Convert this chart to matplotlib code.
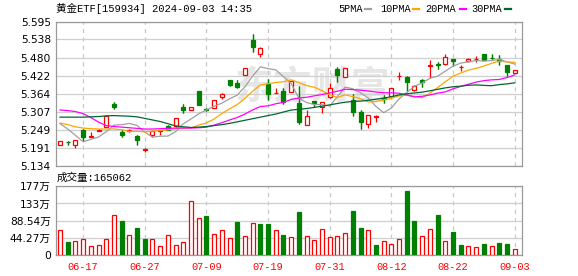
import numpy as np
import pandas as pd
import matplotlib
matplotlib.use('Agg')
import matplotlib.pyplot as plt
from matplotlib.lines import Line2D

plt.rcParams['lines.scale_dashes'] = False

W, H = 578, 276
TITLE = '黄金ETF[159934] 2024-09-03 14:35'
VOL_TITLE = '成交量:165062'
MA_NAMES = ['5PMA', '10PMA', '20PMA', '30PMA']
MA_COLORS = ['#a0a0a0', '#ffa500', '#ff00ff', '#006633']
UP, DOWN = '#ff0000', '#008000'

dates = ['06-12', '06-13', '06-14', '06-17', '06-18', '06-19', '06-20', '06-21',
         '06-24', '06-25', '06-26', '06-27', '06-28', '07-01', '07-02', '07-03',
         '07-04', '07-05', '07-08', '07-09', '07-10', '07-11', '07-12', '07-15',
         '07-16', '07-17', '07-18', '07-19', '07-22', '07-23', '07-24', '07-25',
         '07-26', '07-29', '07-30', '07-31', '08-01', '08-02', '08-05', '08-06',
         '08-07', '08-08', '08-09', '08-12', '08-13', '08-14', '08-15', '08-16',
         '08-19', '08-20', '08-21', '08-22', '08-23', '08-26', '08-27', '08-28',
         '08-29', '08-30', '09-02', '09-03']

opens = [5.200, 5.209, 5.200, 5.2485, 5.2265, 5.2455, 5.257, 5.331, 5.2399, 5.2455,
         5.2294, 5.185, 5.2303, 5.2455, 5.2612, 5.2612, 5.3216, 5.3131, 5.3725, 5.314,
         5.3194, 5.3523, 5.4065, 5.3989, 5.4256, 5.5368, 5.4901, 5.3947, 5.3665, 5.3714,
         5.3703, 5.3334, 5.2633, 5.3407, 5.3205, 5.3523, 5.4434, 5.418, 5.3439, 5.3067,
         5.2664, 5.290, 5.349, 5.3565, 5.4195, 5.418, 5.3755, 5.4075, 5.454, 5.458,
         5.4604, 5.4763, 5.449, 5.4689, 5.475, 5.4901, 5.4795, 5.4763, 5.4551, 5.4318]
highs = [5.2125, 5.212, 5.217, 5.250, 5.2411, 5.2505, 5.295, 5.3385, 5.2485, 5.250,
         5.231, 5.191, 5.2431, 5.247, 5.2625, 5.2875, 5.331, 5.3216, 5.373, 5.318,
         5.3439, 5.367, 5.408, 5.408, 5.4478, 5.5559, 5.5125, 5.4129, 5.3809, 5.381,
         5.4043, 5.3893, 5.312, 5.3407, 5.338, 5.399, 5.4498, 5.4478, 5.3629, 5.312,
         5.2962, 5.296, 5.3597, 5.381, 5.434, 5.4195, 5.3915, 5.4117, 5.471, 5.4657,
         5.4901, 5.4765, 5.455, 5.478, 5.4837, 5.4925, 5.4901, 5.4869, 5.4555, 5.4413]
lows = [5.199, 5.1986, 5.190, 5.2113, 5.226, 5.2445, 5.256, 5.316, 5.2252, 5.240,
        5.2008, 5.178, 5.225, 5.2326, 5.2494, 5.258, 5.3015, 5.3131, 5.327, 5.310,
        5.3194, 5.346, 5.389, 5.381, 5.4256, 5.4974, 5.4816, 5.3439, 5.366, 5.331,
        5.3703, 5.2675, 5.2633, 5.3205, 5.3036, 5.350, 5.402, 5.418, 5.2916, 5.2506,
        5.2537, 5.275, 5.3334, 5.3565, 5.4096, 5.3734, 5.374, 5.3869, 5.416, 5.4445,
        5.4551, 5.452, 5.437, 5.4667, 5.4657, 5.471, 5.477, 5.455, 5.4202, 5.4318]
closes = [5.2125, 5.208, 5.2167, 5.2252, 5.2272, 5.249, 5.294, 5.3216, 5.2326, 5.247,
          5.2167, 5.186, 5.2431, 5.2465, 5.2494, 5.2866, 5.312, 5.3216, 5.328, 5.313,
          5.3439, 5.3629, 5.3916, 5.3869, 5.4478, 5.5134, 5.5113, 5.3629, 5.367, 5.3385,
          5.4043, 5.2749, 5.294, 5.3354, 5.338, 5.381, 5.4256, 5.4478, 5.3067, 5.2749,
          5.2962, 5.2915, 5.3475, 5.381, 5.4205, 5.4011, 5.3893, 5.4011, 5.456, 5.455,
          5.4816, 5.4689, 5.450, 5.4755, 5.4765, 5.4731, 5.4774, 5.470, 5.4339, 5.4413]
# volume in 万
volumes = [63.3, 33.1, 34.9, 40.0, 22.0, 27.0, 40.0, 102.0, 87.4, 50.4,
           69.3, 40.8, 40.0, 22.0, 50.4, 24.5, 32.3, 138.3, 94.4, 100.3,
           53.0, 63.3, 42.6, 84.8, 47.8, 81.4, 79.6, 79.6, 63.3, 51.2,
           45.2, 110.6, 47.8, 37.5, 65.9, 45.2, 47.8, 55.6, 113.2, 69.3,
           63.3, 25.3, 34.9, 27.1, 40.0, 165.0, 87.4, 47.8, 65.9, 102.9,
           34.9, 58.9, 25.3, 22.0, 19.4, 27.9, 22.0, 30.5, 27.9, 16.5]

ma5_head = [5.268, 5.251, 5.231, 5.210]
ma10_head = [5.270, 5.265, 5.258, 5.254, 5.252, 5.251, 5.251, 5.251, 5.249]
ma20_head = [5.312, 5.310, 5.307, 5.300, 5.288, 5.273, 5.262, 5.259, 5.257, 5.255,
             5.253, 5.251, 5.251, 5.252, 5.253, 5.254, 5.254, 5.254, 5.255]
ma30_head = [5.289, 5.289, 5.289, 5.289, 5.290, 5.291, 5.293, 5.294, 5.293, 5.292,
             5.290, 5.285, 5.280, 5.275, 5.268, 5.261, 5.258, 5.256, 5.257, 5.259,
             5.262, 5.265, 5.269, 5.274, 5.279, 5.284, 5.289, 5.294, 5.299]

price_ticks = [5.134, 5.191, 5.249, 5.307, 5.364, 5.422, 5.480, 5.538, 5.595]
price_labels = ['5.134', '5.191', '5.249', '5.307', '5.364', '5.422', '5.480', '5.538', '5.595']
vol_ticks = [0, 44.27, 88.54, 132.81, 177.08]
vol_labels = ['0', '44.27万', '88.54万', '133万', '177万']

MONO = ['Liberation Mono', 'Noto Sans CJK SC']
SANS = ['DejaVu Sans', 'Noto Sans CJK SC']


def px_axes(fig, l, t, r, b):
    return fig.add_axes([l / W, 1 - b / H, (r - l) / W, (b - t) / H])


def style_axes(ax, xticks):
    for sp in ax.spines.values():
        sp.set_color('#999999')
        sp.set_linewidth(0.9)
    ax.set_xlim(-0.56, 59.99)
    ax.set_xticks(xticks)
    ax.set_axisbelow(True)
    ax.grid(axis='y', color='#cfcfcf', lw=0.9)
    ax.grid(axis='x', color='#c8c8c8', lw=0.9, linestyle=(0, (3, 3)))
    ax.tick_params(length=0)
    for lab in ax.get_yticklabels():
        lab.set_family(SANS)


def main():
    o, h, l, c = map(np.asarray, (opens, highs, lows, closes))
    x = np.arange(len(c))
    s = pd.Series(c)
    mas = [np.r_[head, s.rolling(n).mean().to_numpy()[n - 1:]]
           for head, n in zip([ma5_head, ma10_head, ma20_head, ma30_head], [5, 10, 20, 30])]
    up = c > o
    vol_up = np.r_[True, c[1:] >= c[:-1]]
    label_idx = x[3::8]

    fig = plt.figure(figsize=(W / 100, H / 100), dpi=100)
    ax = px_axes(fig, 55.7, 21.7, 522.3, 165.5)
    axv = px_axes(fig, 55.7, 186.3, 522.3, 255.0)

    # price panel
    ax.set_ylim(price_ticks[0], price_ticks[-1])
    ax.set_yticks(price_ticks)
    ax.set_yticklabels(price_labels, fontsize=7.7)
    style_axes(ax, label_idx)
    ax.set_xticklabels([])
    ax.text(0.55, 0.54, '东方财富', transform=ax.transAxes, ha='center', va='center',
            fontsize=28, color='#e6e6e6', family='Noto Sans CJK SC', fontweight='bold',
            zorder=0.5)

    body_lo = np.minimum(o, c)
    body_hi = np.maximum(o, c)
    col = np.where(up, UP, DOWN)
    ax.vlines(x, body_hi, h, colors=col, lw=0.9, zorder=2)
    ax.vlines(x, l, body_lo, colors=col, lw=0.9, zorder=2)
    ax.vlines(x[~up], l[~up], h[~up], colors=DOWN, lw=0.9, zorder=2)
    ax.bar(x, np.maximum(body_hi - body_lo, 0.0004), bottom=body_lo, width=0.52,
           color=np.where(up, 'white', DOWN), edgecolor=col, lw=0.9, zorder=3)
    for ma, color in zip(mas, MA_COLORS):
        ax.plot(x, ma, color=color, lw=0.9, zorder=4)

    # volume panel
    axv.set_ylim(0, vol_ticks[-1])
    axv.set_yticks(vol_ticks)
    axv.set_yticklabels(vol_labels, fontsize=7.7)
    style_axes(axv, label_idx)
    axv.set_xticklabels([dates[i] for i in label_idx], color=UP, fontsize=7.4, family=MONO)
    axv.tick_params(axis='x', pad=5)
    vcol = np.where(vol_up, UP, DOWN)
    axv.bar(x, volumes, width=0.52, color=np.where(vol_up, 'white', DOWN),
            edgecolor=vcol, lw=0.9, zorder=3)

    # header texts and MA legend
    fig.text(56 / W, 1 - 8.5 / H, TITLE, va='center', fontsize=7.6, family=MONO)
    fig.text(57 / W, 1 - 177.5 / H, VOL_TITLE, va='center', fontsize=7.6, family=MONO)
    label_x = [338.7, 380.7, 425.3, 471.3]
    dash_x = [365, 413, 460, 505]
    for name, color, lx, dx in zip(MA_NAMES, MA_COLORS, label_x, dash_x):
        fig.text(lx / W, 1 - 9 / H, name, va='center', fontsize=7.4, family=MONO)
        fig.add_artist(Line2D([dx / W, (dx + 6) / W], [1 - 9 / H, 1 - 9 / H],
                              transform=fig.transFigure, color=color, lw=1.6))

    fig.savefig('out.png', dpi=100)
    plt.close(fig)


if __name__ == '__main__':
    main()
